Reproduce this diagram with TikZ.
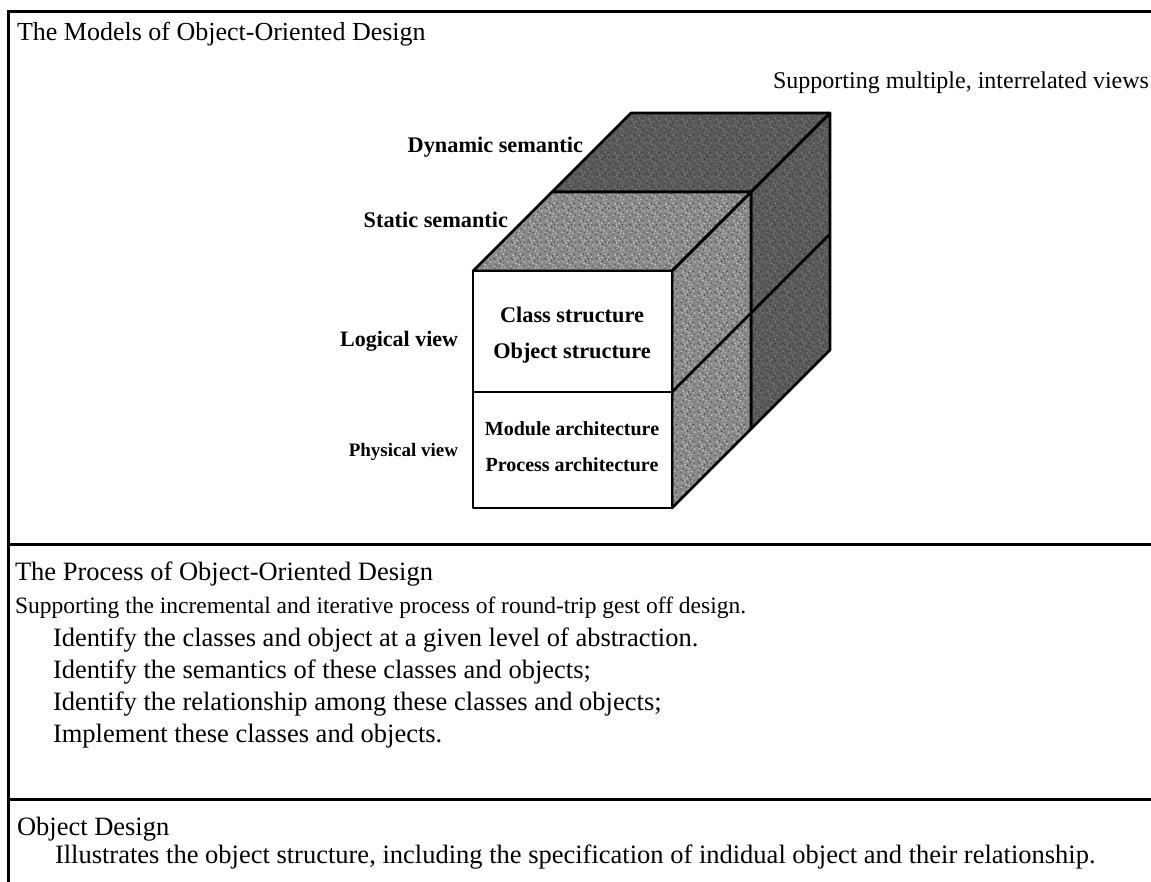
\documentclass[tikz,border=0pt]{standalone}
\usepackage{fontspec}
\setmainfont{Liberation Serif}
\usetikzlibrary{patterns}
\newcommand\fsz[1]{\fontsize{#1}{#1}\selectfont}
\pgfdeclarepatternformonly{specklea}{\pgfpointorigin}{\pgfpoint{17pt}{17pt}}{\pgfpoint{17pt}{17pt}}{%
  \pgfpathcircle{\pgfpoint{1.5pt}{2.3pt}}{1pt}
  \pgfpathcircle{\pgfpoint{5.2pt}{9.1pt}}{0.9pt}
  \pgfpathcircle{\pgfpoint{9.8pt}{4.4pt}}{1pt}
  \pgfpathcircle{\pgfpoint{14.1pt}{12.7pt}}{0.9pt}
  \pgfpathcircle{\pgfpoint{3.3pt}{14.8pt}}{1pt}
  \pgfpathcircle{\pgfpoint{12.4pt}{1.6pt}}{0.8pt}
  \pgfpathcircle{\pgfpoint{7.6pt}{12.2pt}}{1pt}
  \pgfpathcircle{\pgfpoint{15.7pt}{7.3pt}}{0.9pt}
  \pgfpathcircle{\pgfpoint{2.2pt}{7.9pt}}{0.8pt}
  \pgfpathcircle{\pgfpoint{10.9pt}{15.6pt}}{1pt}
  \pgfpathcircle{\pgfpoint{6.4pt}{5.9pt}}{0.9pt}
  \pgfpathcircle{\pgfpoint{13.3pt}{9.8pt}}{0.8pt}
  \pgfpathcircle{\pgfpoint{8.7pt}{1.2pt}}{0.9pt}
  \pgfpathcircle{\pgfpoint{4.6pt}{11.4pt}}{0.8pt}
  \pgfusepath{fill}}
\pgfdeclarepatternformonly{speckleb}{\pgfpointorigin}{\pgfpoint{17pt}{17pt}}{\pgfpoint{17pt}{17pt}}{%
  \pgfpathcircle{\pgfpoint{3.4pt}{4.1pt}}{0.9pt}
  \pgfpathcircle{\pgfpoint{7.9pt}{8.3pt}}{1pt}
  \pgfpathcircle{\pgfpoint{11.6pt}{6.2pt}}{0.9pt}
  \pgfpathcircle{\pgfpoint{15.2pt}{3.1pt}}{0.8pt}
  \pgfpathcircle{\pgfpoint{1.2pt}{11.2pt}}{1pt}
  \pgfpathcircle{\pgfpoint{5.9pt}{15.8pt}}{0.9pt}
  \pgfpathcircle{\pgfpoint{9.3pt}{13.8pt}}{0.9pt}
  \pgfpathcircle{\pgfpoint{13.9pt}{15.2pt}}{1pt}
  \pgfpathcircle{\pgfpoint{14.6pt}{10.1pt}}{0.8pt}
  \pgfpathcircle{\pgfpoint{1.2pt}{1.0pt}}{0.9pt}
  \pgfpathcircle{\pgfpoint{6.8pt}{2.4pt}}{0.8pt}
  \pgfpathcircle{\pgfpoint{11.1pt}{10.9pt}}{0.9pt}
  \pgfpathcircle{\pgfpoint{3.0pt}{9.6pt}}{0.8pt}
  \pgfusepath{fill}}
\tikzset{
  frameline/.style={line width=3pt, line cap=rect},
  cubeline/.style={line width=2.6pt, line join=round},
  txt/.style={inner sep=0pt, outer sep=0pt},
  body/.style={txt, anchor=base west, font=\fsz{26.5}},
  small/.style={txt, anchor=base west, font=\fsz{23.5}},
  cubelabel/.style={txt, anchor=base east, font=\bfseries\fsz{22.3}},
  facetext/.style={txt, anchor=base, font=\bfseries\fsz{22.3}},
  facetextsmall/.style={txt, anchor=base, font=\bfseries\fsz{20}},
}
\definecolor{staticgray}{HTML}{8A8A8A}
\definecolor{staticlight}{HTML}{C8C8C8}
\definecolor{staticdark}{HTML}{505050}
\definecolor{dyngray}{HTML}{5A5A5A}
\definecolor{dynlight}{HTML}{7C7C7C}
\definecolor{dyndark}{HTML}{3C3C3C}
\begin{document}
\begin{tikzpicture}[x=1pt,y=-1pt]
\useasboundingbox (0,0) rectangle (1151,881);
% frame
\coordinate (tl) at (8,11);
\coordinate (tr) at (1153,11);
\coordinate (bl) at (8,883);
\coordinate (m1l) at (8,544);
\coordinate (m1r) at (1153,544);
\coordinate (m2l) at (8,799);
\coordinate (m2r) at (1153,799);
\draw[frameline] (tr) -- (tl) -- (bl);
\draw[frameline] (m1l) -- (m1r);
\draw[frameline] (m2l) -- (m2r);
% section 1 texts
\node[body, font=\fsz{26}] (t1) at (17,40) {The Models of Object-Oriented Design};
\node[txt, anchor=base east, font=\fsz{24}] (t1b) at (1149,88) {Supporting multiple, interrelated views};
% cube geometry
\coordinate (fa) at (473,271);
\coordinate (fb) at (672,271);
\coordinate (fc) at (672,508);
\coordinate (fd) at (473,508);
\coordinate (fml) at (473,392);
\coordinate (fmr) at (672,392);
\coordinate (sa) at (552,192);
\coordinate (sb) at (751,192);
\coordinate (sc) at (751,429);
\coordinate (sm) at (751,313);
\coordinate (da) at (631,113);
\coordinate (db) at (830,113);
\coordinate (dc) at (830,350);
\coordinate (dm) at (830,234);
% dynamic layer
\fill[dyngray] (sa) -- (da) -- (db) -- (dc) -- (sc) -- (sb) -- cycle;
\fill[pattern=specklea, pattern color=dynlight] (sa) -- (da) -- (db) -- (dc) -- (sc) -- (sb) -- cycle;
\fill[pattern=speckleb, pattern color=dyndark] (sa) -- (da) -- (db) -- (dc) -- (sc) -- (sb) -- cycle;
\draw[cubeline] (sa) -- (sb) -- (db) -- (da) -- cycle;
\draw[cubeline] (sb) -- (db) -- (dc) -- (sc) -- cycle;
\draw[cubeline] (sm) -- (dm);
% static layer
\fill[staticgray] (fa) -- (sa) -- (sb) -- (sc) -- (fc) -- (fb) -- cycle;
\fill[pattern=specklea, pattern color=staticlight] (fa) -- (sa) -- (sb) -- (sc) -- (fc) -- (fb) -- cycle;
\fill[pattern=speckleb, pattern color=staticdark] (fa) -- (sa) -- (sb) -- (sc) -- (fc) -- (fb) -- cycle;
\draw[cubeline] (fa) -- (fb) -- (sb) -- (sa) -- cycle;
\draw[cubeline] (fb) -- (sb) -- (sc) -- (fc) -- cycle;
\draw[cubeline] (fmr) -- (sm);
% front
\filldraw[cubeline, fill=white] (fa) rectangle (fc);
\draw[cubeline] (fml) -- (fmr);
% cube labels
\node[cubelabel] (dyn) at (583,152) {Dynamic semantic};
\node[cubelabel] (sta) at (508,227) {Static semantic};
\node[cubelabel, font=\bfseries\fsz{22}] (log) at (458,346) {Logical view};
\node[cubelabel, font=\bfseries\fsz{19}] (phy) at (458,456) {Physical view};
\node[facetext] (cs) at (572,322) {Class structure};
\node[facetext] (os) at (572,358) {Object structure};
\node[facetextsmall] (ma) at (572,435) {Module architecture};
\node[facetextsmall] (pa) at (572,471) {Process architecture};
% section 2
\node[body] (t2) at (15,580) {The Process of Object-Oriented Design};
\node[small] (t2a) at (15,613) {Supporting the incremental and iterative process of round-trip gest off design.};
\node[body] (i1) at (53,646) {Identify the classes and object at a given level of abstraction.};
\node[body] (i2) at (53,678) {Identify the semantics of these classes and objects;};
\node[body] (i3) at (53,710) {Identify the relationship among these classes and objects;};
\node[body] (i4) at (53,742) {Implement these classes and objects.};
% section 3
\node[body] (t3) at (17,835) {Object Design};
\node[body] (o1) at (55,863) {Illustrates the object structure, including the specification of indidual object and their relationship.};
\end{tikzpicture}
\end{document}
